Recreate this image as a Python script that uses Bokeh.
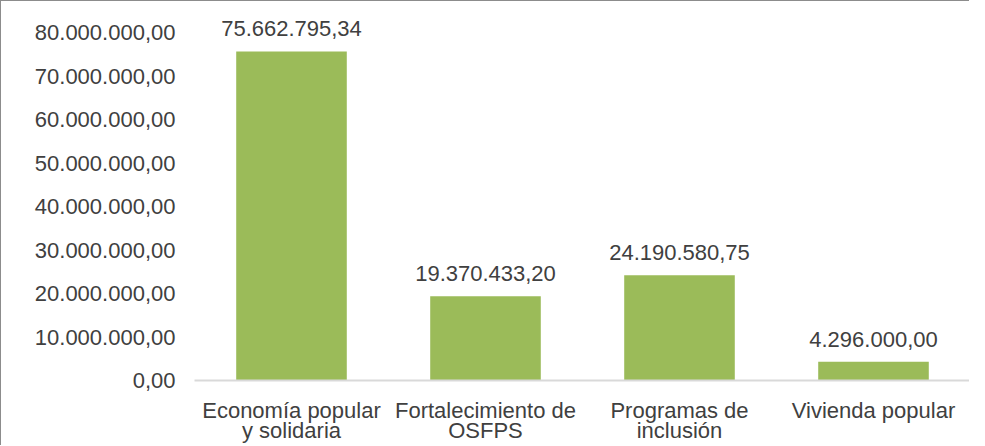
from bokeh.plotting import figure
from bokeh.models import ColumnDataSource, FixedTicker, CustomJSTickFormatter, FactorRange
from bokeh.core.properties import value
from bokeh.embed import file_html
from bokeh.resources import INLINE

categories = ["Economía popular\ny solidaria", "Fortalecimiento de\nOSFPS", "Programas de\ninclusión", "Vivienda popular"]
amounts = [75662795.34, 19370433.20, 24190580.75, 4296000.00]
y_ticks = [0, 10000000, 20000000, 30000000, 40000000, 50000000, 60000000, 70000000, 80000000]

def fmt(v):
    s = f"{v:,.2f}"
    return s.replace(",", "X").replace(".", ",").replace("X", ".")

labels = [fmt(v) for v in amounts]
src = ColumnDataSource(dict(cat=categories, val=amounts, lab=labels))

FONT = "Liberation Sans"
TXT = "#404040"
FS = "22px"
BORDER = "#8c8c8c"

p = figure(x_range=FactorRange(*categories, range_padding=0), y_range=(0, 83000000),
           width=969, height=445, output_backend="svg", toolbar_location=None,
           min_border_left=193, min_border_right=0, min_border_top=18, min_border_bottom=50,
           styles={"border-top": f"1px solid {BORDER}", "border-left": f"1px solid {BORDER}"})
p.background_fill_color = None
p.border_fill_color = None
p.outline_line_color = None
p.xgrid.grid_line_color = None
p.ygrid.grid_line_color = None

p.vbar(x="cat", top="val", width=0.57, source=src, fill_color="#9BBB59", line_color=None)
p.text(x="cat", y="val", text="lab", source=src, text_align="center", text_baseline="bottom",
       y_offset=-15, text_font=value(FONT), text_font_size=FS, text_color=TXT)

p.yaxis.ticker = FixedTicker(ticks=y_ticks)
p.yaxis.formatter = CustomJSTickFormatter(code="""
const s = tick.toFixed(2);
const parts = s.split('.');
const intp = parts[0].replace(/\\B(?=(\\d{3})+(?!\\d))/g, '.');
return intp + ',' + parts[1];
""")
p.yaxis.axis_line_color = None
p.yaxis.major_tick_line_color = None
p.yaxis.minor_tick_line_color = None
p.yaxis.major_label_text_font = FONT
p.yaxis.major_label_text_font_size = FS
p.yaxis.major_label_text_color = TXT
p.yaxis.major_label_standoff = 13

p.xaxis.axis_line_color = "#d9d9d9"
p.xaxis.axis_line_width = 2
p.xaxis.major_tick_line_color = None
p.xaxis.minor_tick_line_color = None
p.xaxis.major_label_text_font = FONT
p.xaxis.major_label_text_font_size = FS
p.xaxis.major_label_text_color = TXT
p.xaxis.major_label_standoff = 11
p.xaxis.major_label_text_line_height = 0.83

open("out.html", "w").write(file_html(p, INLINE))
